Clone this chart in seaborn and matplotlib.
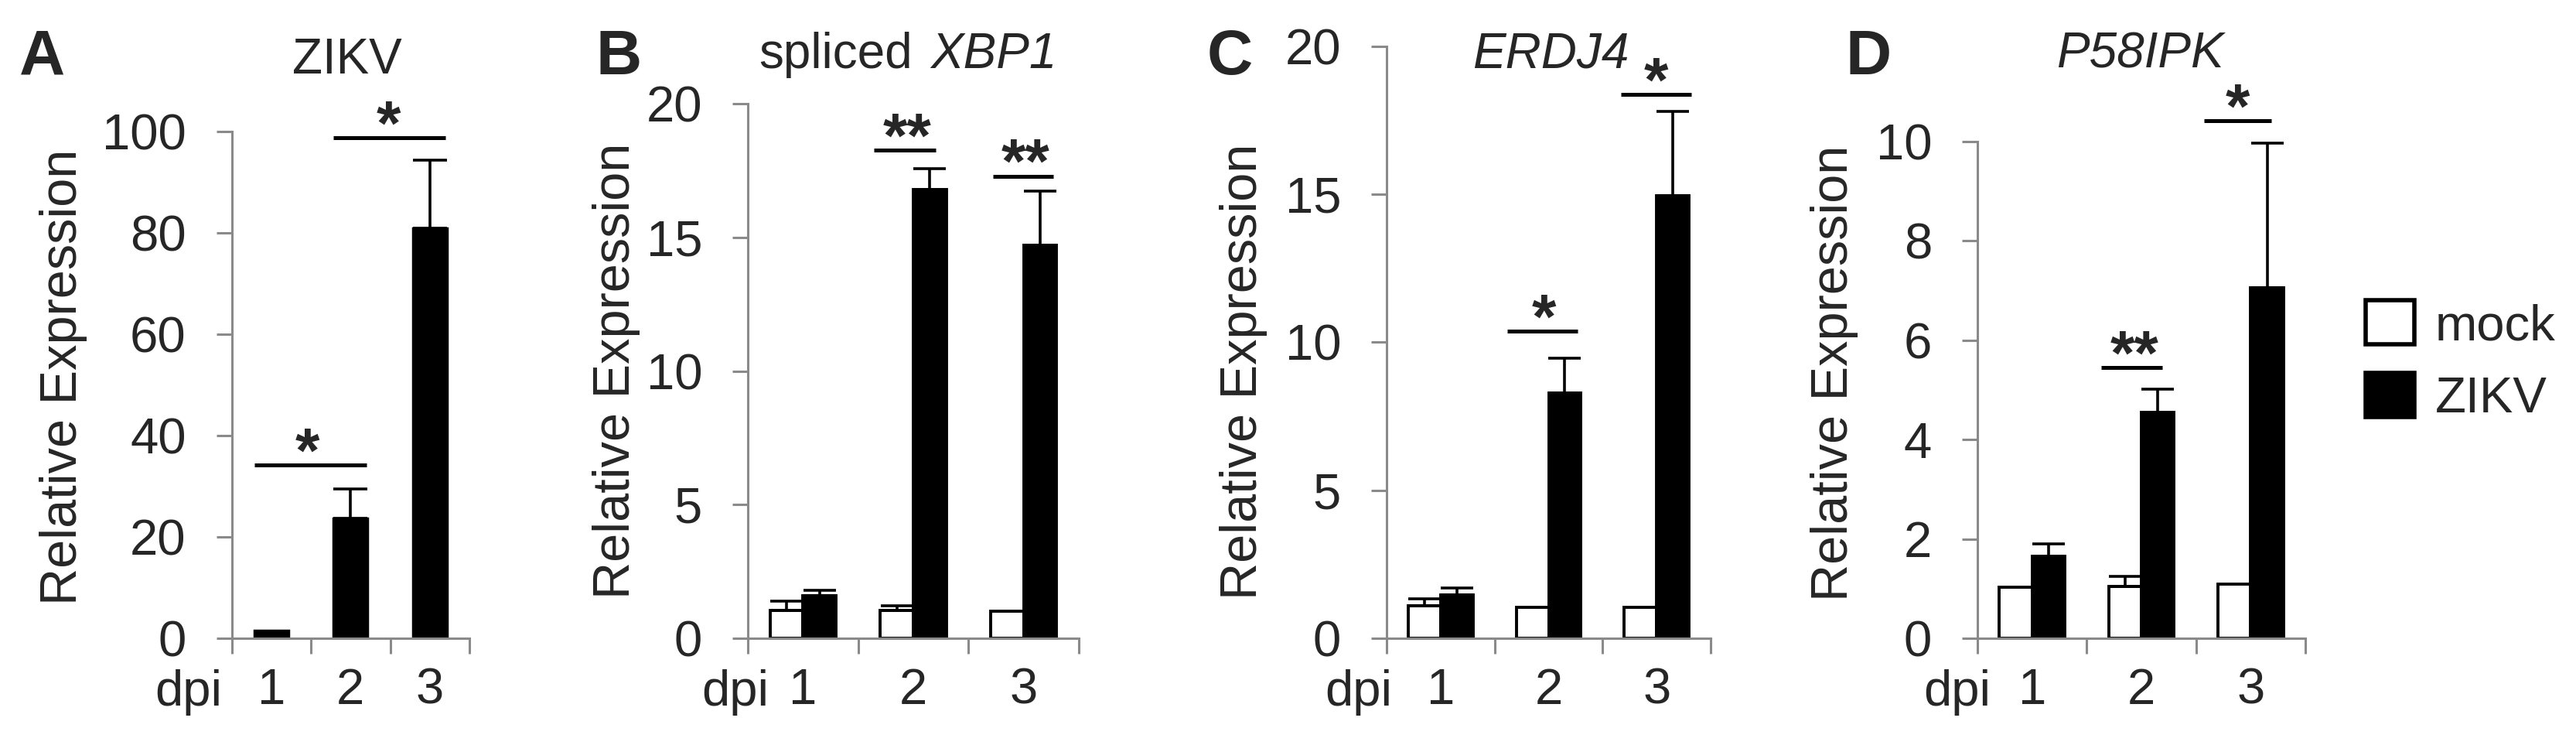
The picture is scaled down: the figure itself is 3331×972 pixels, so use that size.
import numpy as np
import pandas as pd
import seaborn as sns
import matplotlib.pyplot as plt
from matplotlib.patches import Patch

# values
dpi_labels = ['1', '2', '3']

zikv_rna = [1.6, 23.7, 81.0]
zikv_rna_err = [0.0, 5.8, 13.4]

xbp1_mock = [1.04, 1.04, 1.0]
xbp1_mock_err = [0.36, 0.18, 0.0]
xbp1_zikv = [1.58, 16.8, 14.7]
xbp1_zikv_err = [0.21, 0.77, 2.05]

erdj4_mock = [1.1, 1.05, 1.05]
erdj4_mock_err = [0.23, 0.0, 0.0]
erdj4_zikv = [1.46, 8.3, 14.95]
erdj4_zikv_err = [0.24, 1.16, 2.86]

p58_mock = [1.03, 1.05, 1.09]
p58_mock_err = [0.0, 0.19, 0.0]
p58_zikv = [1.65, 4.55, 7.05]
p58_zikv_err = [0.25, 0.46, 2.92]

# significance brackets: start, end, height, star position, label
sig_a = [(-0.21, 1.20, 34.2, 0.46, '*'), (0.78, 2.20, 98.8, 1.48, '*')]
sig_b = [(0.64, 1.20, 18.28, 0.945, '**'), (1.72, 2.27, 17.3, 2.02, '**')]
sig_c = [(0.62, 1.27, 10.38, 0.955, '*'), (1.67, 2.32, 18.38, 1.995, '*')]
sig_d = [(0.63, 1.19, 5.45, 0.94, '**'), (1.57, 2.19, 10.42, 1.88, '*')]

W, H = 3331, 972
GRAY = '#8a8a8a'

sns.set_style('white')
plt.rcParams['font.family'] = ['Liberation Sans', 'DejaVu Sans']

fig = plt.figure(figsize=(W / 100, H / 100), dpi=100)


def px_rect(l, r, b, t):
    return [l / W, 1 - b / H, (r - l) / W, (b - t) / H]


def style_axis(ax, top, step):
    ax.set_xlim(-0.5, 2.5)
    ax.set_ylim(0, top)
    ax.set_yticks(np.arange(0, top + step / 2, step))
    ax.set_xticks([-0.5, 0.5, 1.5, 2.5], labels=['', '', '', ''])
    ax.set_xticks([0, 1, 2], labels=dpi_labels, minor=True)
    ax.set_xlabel('')
    ax.set_ylabel('')
    sns.despine(ax=ax)
    for s in ['left', 'bottom']:
        ax.spines[s].set_color(GRAY)
        ax.spines[s].set_linewidth(2.2)
    ax.tick_params(which='major', direction='out', length=14.4, width=2.2,
                   color=GRAY, labelsize=47, left=True, bottom=True)
    ax.tick_params(axis='y', pad=28)
    ax.tick_params(axis='x', which='minor', length=0, pad=27, labelsize=47)


def add_errors(ax, errs, cap):
    for cont, err in zip(ax.containers, errs):
        err = np.asarray(err)
        xs = np.array([p.get_x() + p.get_width() / 2 for p in cont.patches])
        ys = np.array([p.get_height() for p in cont.patches])
        keep = err > 0
        ax.errorbar(xs[keep], ys[keep], yerr=[np.zeros(keep.sum()), err[keep]],
                    fmt='none', ecolor='black', elinewidth=2.6, capsize=cap,
                    capthick=2.6)


def add_sig(ax, sigs):
    for x0, x1, y, xs, lab in sigs:
        ax.plot([x0, x1], [y, y], color='black', lw=3.6, clip_on=False,
                solid_capstyle='butt')
        ax.annotate(lab, xy=(xs, y), xytext=(0, -6), textcoords='offset points',
                    ha='center', va='baseline', fontsize=58, fontweight='bold',
                    annotation_clip=False)


def grouped(mock, zikv):
    return pd.DataFrame({'dpi': dpi_labels * 2,
                         'group': ['mock'] * 3 + ['ZIKV'] * 3,
                         'value': list(mock) + list(zikv)})


palette = {'mock': 'white', 'ZIKV': 'black'}

# A: ZIKV RNA
axA = fig.add_axes(px_rect(299.5, 607, 825, 170.5))
sns.barplot(x=dpi_labels, y=zikv_rna, color='black', width=0.43,
            edgecolor='black', linewidth=2.5, errorbar=None, ax=axA, saturation=1)
add_errors(axA, [zikv_rna_err], 16)
style_axis(axA, 100, 20)
add_sig(axA, sig_a)

panels = [
    (px_rect(967, 1395, 825, 134.5), grouped(xbp1_mock, xbp1_zikv),
     [xbp1_mock_err, xbp1_zikv_err], 20, 5, sig_b),
    (px_rect(1793, 2212, 825, 60), grouped(erdj4_mock, erdj4_zikv),
     [erdj4_mock_err, erdj4_zikv_err], 20, 5, sig_c),
    (px_rect(2557, 2981, 825, 183), grouped(p58_mock, p58_zikv),
     [p58_mock_err, p58_zikv_err], 10, 2, sig_d),
]
axes = [axA]
for rect, df, errs, top, step, sigs in panels:
    ax = fig.add_axes(rect)
    sns.barplot(data=df, x='dpi', y='value', hue='group', palette=palette,
                width=0.6, edgecolor='black', linewidth=2.8, errorbar=None,
                saturation=1, legend=False, ax=ax)
    add_errors(ax, errs, 15)
    style_axis(ax, top, step)
    add_sig(ax, sigs)
    axes.append(ax)

# titles
fig.text(449 / W, 1 - 95 / H, 'ZIKV', ha='center', va='baseline', fontsize=46)
fig.text(981 / W, 1 - 88 / H, 'spliced', ha='left', va='baseline', fontsize=46)
fig.text(1203 / W, 1 - 88 / H, 'XBP1', ha='left', va='baseline', fontsize=46,
         fontstyle='italic')
fig.text(2005 / W, 1 - 88 / H, 'ERDJ4', ha='center', va='baseline', fontsize=46,
         fontstyle='italic')
fig.text(2767 / W, 1 - 88 / H, 'P58IPK', ha='center', va='baseline', fontsize=46,
         fontstyle='italic')

# panel letters, axis labels
letters = ['A', 'B', 'C', 'D']
letter_x = [25, 770, 1561, 2387]
ylab_pos = [(82, 487), (797, 479), (1608, 480), (2372, 482)]
dpi_right = [287, 994, 1800, 2574]

for i in range(4):
    fig.text(letter_x[i] / W, 1 - 96 / H, letters[i], ha='left', va='baseline',
             fontsize=59, fontweight='bold')
    fig.text(ylab_pos[i][0] / W, 1 - ylab_pos[i][1] / H, 'Relative Expression',
             rotation=90, ha='center', va='center', fontsize=48)
    fig.text(dpi_right[i] / W, 1 - 912 / H, 'dpi', ha='right', va='baseline',
             fontsize=47)

handles = [Patch(facecolor='white', edgecolor='black', linewidth=4),
           Patch(facecolor='black', edgecolor='black', linewidth=4)]
fig.legend(handles=handles, labels=['mock', 'ZIKV'], loc='center left',
           bbox_to_anchor=(3059 / W, 1 - 467 / H), frameon=False, fontsize=47,
           handlelength=0.97, handleheight=0.97, handletextpad=0.4,
           labelspacing=0.45, borderpad=0, borderaxespad=0)

fig.savefig('out.png', dpi=100, facecolor='white')
